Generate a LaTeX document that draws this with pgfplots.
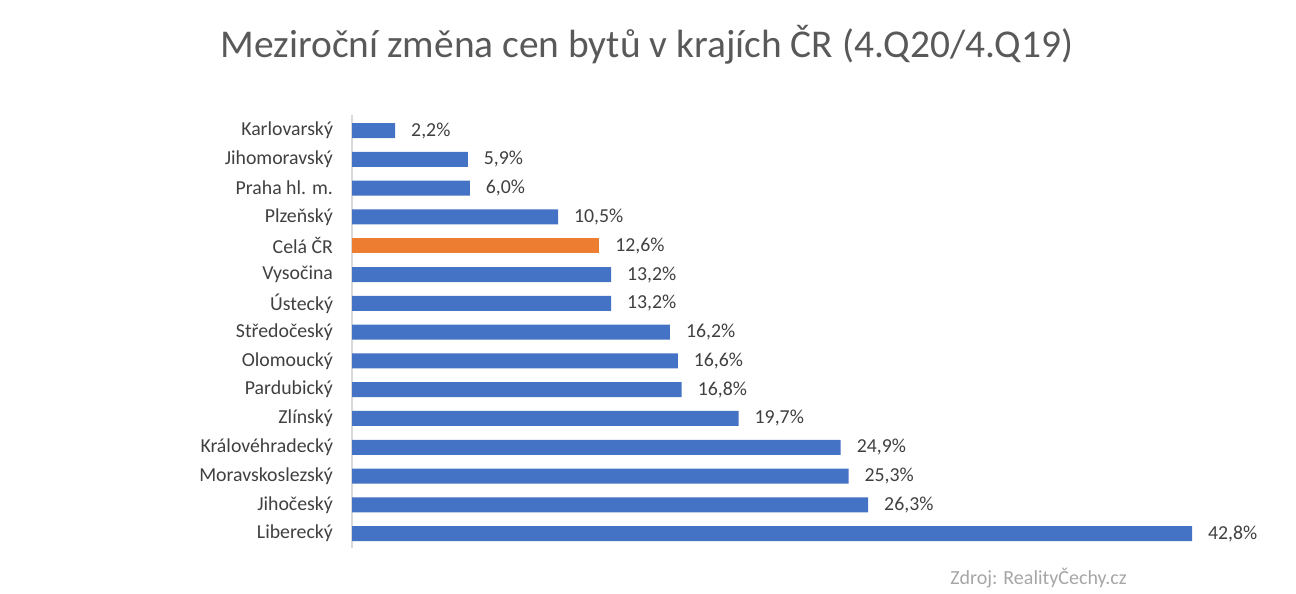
\documentclass[border=0pt]{standalone}
\usepackage{pgfplots}
\pgfplotsset{compat=1.18}
\usepackage{fontspec}
\setmainfont{Carlito}
\definecolor{barblue}{HTML}{4472C4}
\definecolor{barorange}{HTML}{ED7D31}
\definecolor{txt}{HTML}{404040}
\definecolor{ttl}{HTML}{595959}
\definecolor{src}{HTML}{A6A6A6}
\definecolor{axl}{HTML}{D9D9D9}
\begin{document}
\begin{tikzpicture}
% canvas 1296x594 px, 1px = 0.5pt
\path[use as bounding box] (0,0) rectangle (648pt,297pt);
\node[text=ttl, font=\fontsize{19.7}{22}\selectfont] at (323.5pt,274.5pt)
  {Meziroční změna cen bytů v krajích ČR (4.Q20/4.Q19)};
\node[text=src, font=\fontsize{10}{12}\selectfont, anchor=west, inner sep=0pt] at (475pt,8pt)
  {Zdroj: RealityČechy.cz};
\begin{axis}[
    at={(176pt,23pt)}, anchor=south west,
    scale only axis,
    width=420pt, height=216.6pt,
    xmin=0, xmax=42.8,
    ymin=-0.55, ymax=14.5,
    y dir=reverse,
    xbar, bar width=7.5pt, bar shift=0pt,
    axis x line=none,
    axis y line*=left,
    y axis line style={axl, line width=0.8pt, -},
    major tick length=0pt,
    ytick={0,...,14},
    yticklabels={Karlovarský, Jihomoravský, Praha hl. m., Plzeňský, Celá ČR,
      Vysočina, Ústecký, Středočeský, Olomoucký, Pardubický, Zlínský,
      Královéhradecký, Moravskoslezský, Jihočeský, Liberecký},
    yticklabel style={text=txt, font=\fontsize{9.9}{11}\selectfont, xshift=-6pt},
    nodes near coords={\pgfmathprintnumber[use comma, fixed, fixed zerofill, precision=1]{\pgfplotspointmeta}\%},
    nodes near coords style={text=txt, font=\fontsize{9.9}{11}\selectfont, anchor=west, xshift=4.5pt},
    /pgf/number format/assume math mode=true,
    point meta=x,
    clip=false,
]
\addplot[fill=barblue, draw=none] coordinates {
  (2.2,0) (5.9,1) (6.0,2) (10.5,3)
  (13.2,5) (13.2,6) (16.2,7) (16.6,8) (16.8,9) (19.7,10)
  (24.9,11) (25.3,12) (26.3,13) (42.8,14)
};
\addplot[fill=barorange, draw=none] coordinates {(12.6,4)};
\end{axis}
\end{tikzpicture}
\end{document}
